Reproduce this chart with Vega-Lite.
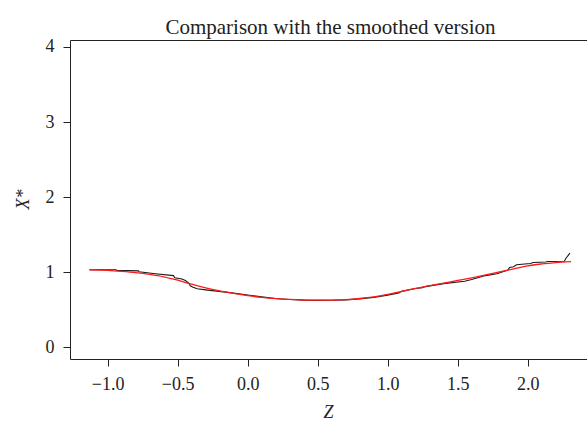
{
  "$schema": "https://vega.github.io/schema/vega-lite/v6.json",
  "width": 517,
  "height": 319,
  "autosize": {"type": "none"},
  "padding": {"left": 70, "top": 40, "right": 0, "bottom": 62},
  "background": "white",
  "title": {
    "text": "Comparison with the smoothed version",
    "font": "Liberation Serif",
    "fontSize": 21,
    "fontWeight": "normal",
    "color": "#222222",
    "anchor": "middle",
    "frame": "group",
    "baseline": "bottom",
    "offset": 3,
    "dx": 2,
    "dy": 24
  },
  "config": {
    "view": {"stroke": null},
    "axis": {
      "grid": false,
      "domainColor": "#222222",
      "domainWidth": 1,
      "tickColor": "#222222",
      "tickWidth": 1,
      "tickSize": 7,
      "labelFont": "Liberation Serif",
      "labelFontSize": 18,
      "labelColor": "#222222",
      "titleFont": "Liberation Serif",
      "titleFontSize": 18,
      "titleFontWeight": "normal",
      "titleFontStyle": "italic",
      "titleColor": "#222222"
    }
  },
  "datasets": {
    "stepwise": [
      {"z": -1.13, "x": 1.032},
      {"z": -0.94, "x": 1.032},
      {"z": -0.935, "x": 1.024},
      {"z": -0.78, "x": 1.018},
      {"z": -0.775, "x": 1.006},
      {"z": -0.66, "x": 0.98},
      {"z": -0.53, "x": 0.955},
      {"z": -0.52, "x": 0.925},
      {"z": -0.47, "x": 0.91},
      {"z": -0.445, "x": 0.89},
      {"z": -0.42, "x": 0.855},
      {"z": -0.41, "x": 0.82},
      {"z": -0.39, "x": 0.8},
      {"z": -0.36, "x": 0.78},
      {"z": -0.3, "x": 0.765},
      {"z": -0.22, "x": 0.748},
      {"z": -0.1, "x": 0.722},
      {"z": 0.0, "x": 0.697},
      {"z": 0.1, "x": 0.672},
      {"z": 0.2, "x": 0.65},
      {"z": 0.3, "x": 0.636},
      {"z": 0.4, "x": 0.628},
      {"z": 0.5, "x": 0.625},
      {"z": 0.6, "x": 0.626},
      {"z": 0.7, "x": 0.632},
      {"z": 0.8, "x": 0.645},
      {"z": 0.9, "x": 0.665},
      {"z": 1.0, "x": 0.695},
      {"z": 1.08, "x": 0.725},
      {"z": 1.1, "x": 0.745},
      {"z": 1.2, "x": 0.782},
      {"z": 1.25, "x": 0.795},
      {"z": 1.26, "x": 0.805},
      {"z": 1.4, "x": 0.848},
      {"z": 1.55, "x": 0.88},
      {"z": 1.6, "x": 0.902},
      {"z": 1.7, "x": 0.955},
      {"z": 1.78, "x": 0.98},
      {"z": 1.86, "x": 1.028},
      {"z": 1.87, "x": 1.062},
      {"z": 1.9, "x": 1.072},
      {"z": 1.92, "x": 1.1},
      {"z": 2.02, "x": 1.115},
      {"z": 2.04, "x": 1.13},
      {"z": 2.13, "x": 1.135},
      {"z": 2.14, "x": 1.142},
      {"z": 2.262, "x": 1.145},
      {"z": 2.275, "x": 1.19},
      {"z": 2.302, "x": 1.253}
    ],
    "smoothed": [
      {"z": -1.13, "x": 1.031},
      {"z": -1.0, "x": 1.025},
      {"z": -0.9, "x": 1.012},
      {"z": -0.8, "x": 0.995},
      {"z": -0.7, "x": 0.97},
      {"z": -0.6, "x": 0.938},
      {"z": -0.5, "x": 0.893},
      {"z": -0.4, "x": 0.84},
      {"z": -0.3, "x": 0.79},
      {"z": -0.2, "x": 0.75},
      {"z": -0.1, "x": 0.718},
      {"z": 0.0, "x": 0.688},
      {"z": 0.1, "x": 0.665},
      {"z": 0.2, "x": 0.648},
      {"z": 0.3, "x": 0.637},
      {"z": 0.4, "x": 0.63},
      {"z": 0.5, "x": 0.627},
      {"z": 0.6, "x": 0.628},
      {"z": 0.7, "x": 0.635},
      {"z": 0.8, "x": 0.65},
      {"z": 0.9, "x": 0.672},
      {"z": 1.0, "x": 0.705},
      {"z": 1.1, "x": 0.745},
      {"z": 1.2, "x": 0.785},
      {"z": 1.3, "x": 0.82},
      {"z": 1.4, "x": 0.855},
      {"z": 1.5, "x": 0.89},
      {"z": 1.6, "x": 0.925},
      {"z": 1.7, "x": 0.965},
      {"z": 1.8, "x": 1.005},
      {"z": 1.9, "x": 1.045},
      {"z": 2.0, "x": 1.085},
      {"z": 2.1, "x": 1.11},
      {"z": 2.2, "x": 1.128},
      {"z": 2.31, "x": 1.141}
    ]
  },
  "layer": [
    {
      "data": {"name": "stepwise"},
      "mark": {"type": "line", "interpolate": "linear", "color": "#1a1a1a", "strokeWidth": 1.1},
      "encoding": {
        "x": {
          "field": "z",
          "type": "quantitative",
          "scale": {"domain": [-1.269, 2.424], "nice": false, "zero": false},
          "axis": {
            "orient": "bottom",
            "values": [-1, -0.5, 0, 0.5, 1, 1.5, 2],
            "format": ".1f",
            "labelPadding": 9,
            "title": "Z",
            "titleX": 258,
            "titleY": 58,
            "titleBaseline": "alphabetic"
          }
        },
        "y": {
          "field": "x",
          "type": "quantitative",
          "scale": {"domain": [-0.156, 4.093], "nice": false, "zero": false},
          "axis": {
            "values": [0, 1, 2, 3, 4],
            "format": "d",
            "labelPadding": 9,
            "title": "X*",
            "titleX": -42,
            "titleY": 159,
            "titleAngle": -90,
            "titleBaseline": "alphabetic"
          }
        }
      }
    },
    {
      "data": {"name": "smoothed"},
      "mark": {"type": "line", "interpolate": "monotone", "color": "#ff1a1a", "strokeWidth": 1.3},
      "encoding": {
        "x": {
          "field": "z",
          "type": "quantitative",
          "axis": {"orient": "top", "labels": false, "ticks": false, "domain": true, "title": null}
        },
        "y": {"field": "x", "type": "quantitative"}
      }
    }
  ],
  "resolve": {"axis": {"x": "independent"}}
}
